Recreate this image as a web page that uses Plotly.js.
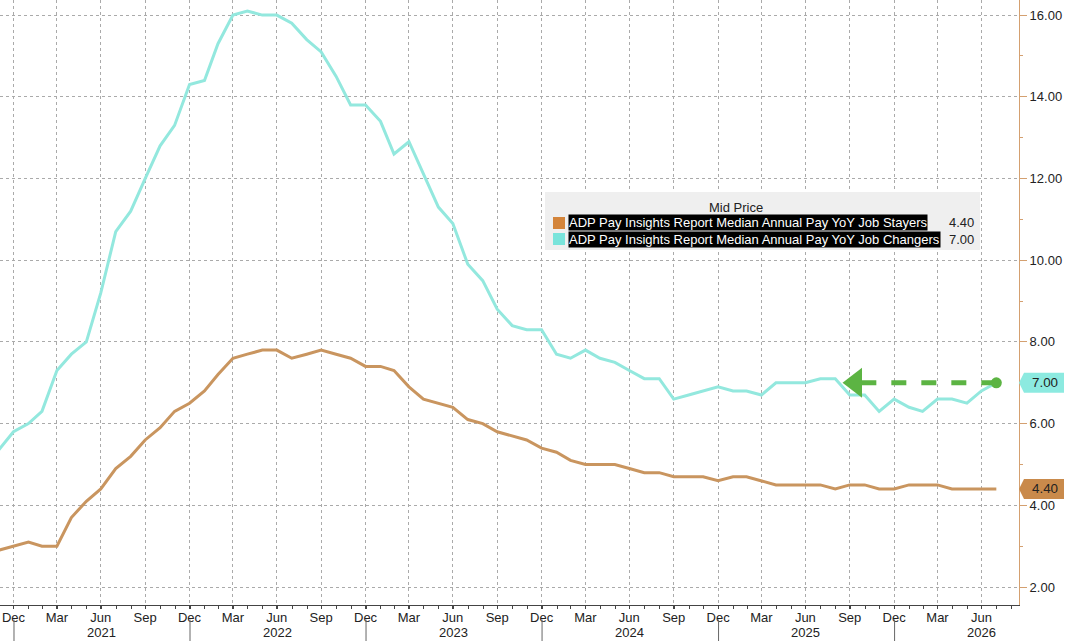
<!DOCTYPE html>
<html>
<head>
<meta charset="utf-8">
<script src="https://cdn.plot.ly/plotly-3.0.1.min.js"></script>
<style>
  html, body { margin: 0; padding: 0; background: #fff; }
  #chart { width: 1065px; height: 641px; }
</style>
</head>
<body>
<div id="chart"></div>
<script>
// monthly series, first point Nov 2020, last point Jul 2026
const startYear = 2020;
const startMonth = 11;

const jobChangers = [
    5.35, 5.8,
    6.0, 6.3, 7.3, 7.7, 8.0, 9.2, 10.7, 11.2, 12.0, 12.8, 13.3, 14.3,
    14.4, 15.3, 16.0, 16.1, 16.0, 16.0, 15.8, 15.4, 15.1, 14.5, 13.8, 13.8,
    13.4, 12.6, 12.9, 12.1, 11.3, 10.9, 9.9, 9.5, 8.8, 8.4, 8.3, 8.3,
    7.7, 7.6, 7.8, 7.6, 7.5, 7.3, 7.1, 7.1, 6.6, 6.7, 6.8, 6.9,
    6.8, 6.8, 6.7, 7.0, 7.0, 7.0, 7.1, 7.1, 6.7, 6.7, 6.3, 6.6,
    6.4, 6.3, 6.6, 6.6, 6.5, 6.8, 7.0
];

const jobStayers = [
    2.9, 3.0,
    3.1, 3.0, 3.0, 3.7, 4.1, 4.4, 4.9, 5.2, 5.6, 5.9, 6.3, 6.5,
    6.8, 7.2, 7.6, 7.7, 7.8, 7.8, 7.6, 7.7, 7.8, 7.7, 7.6, 7.4,
    7.4, 7.3, 6.9, 6.6, 6.5, 6.4, 6.1, 6.0, 5.8, 5.7, 5.6, 5.4,
    5.3, 5.1, 5.0, 5.0, 5.0, 4.9, 4.8, 4.8, 4.7, 4.7, 4.7, 4.6,
    4.7, 4.7, 4.6, 4.5, 4.5, 4.5, 4.5, 4.4, 4.5, 4.5, 4.4, 4.4,
    4.5, 4.5, 4.5, 4.4, 4.4, 4.4, 4.4
];

const seriesNames = [
    "ADP Pay Insights Report Median Annual Pay YoY Job Stayers",
    "ADP Pay Insights Report Median Annual Pay YoY Job Changers"
];
const lineColors = ["#c9955f", "#93e8de"];
const swatchColors = ["#d3843a", "#79e4db"];
const tagColors = ["#c98a4b", "#8ceae0"];
const arrowColor = "#5cb443";

const monthNames = ["Jan","Feb","Mar","Apr","May","Jun","Jul","Aug","Sep","Oct","Nov","Dec"];
const years = [2021, 2022, 2023, 2024, 2025, 2026];
const yTicks = [2, 4, 6, 8, 10, 12, 14, 16];

// where the green arrow points back to
const arrowTipDate = "2025-10-12";

function monthEnd(y, m) {
    // m is 1..12
    let d = new Date(Date.UTC(y, m, 0));
    return d.toISOString().slice(0, 10);
}

let dates = [];
for (let i = 0; i < jobChangers.length; i++) {
    let m = startMonth - 1 + i;
    dates.push(monthEnd(startYear + Math.floor(m / 12), (m % 12) + 1));
}

// quarter ticks: Dec, Mar, Jun, Sep
let tickvals = [];
let ticktext = [];
for (let i = 0; i < dates.length; i++) {
    let mo = Number(dates[i].slice(5, 7));
    if (mo % 3 == 0) {
        tickvals.push(dates[i]);
        ticktext.push(monthNames[mo - 1]);
    }
}

const font = "Liberation Sans, Arial, sans-serif";
const plotW = 1019, plotH = 605;
const px = (x) => x / plotW;
const py = (y) => 1 - y / plotH;

let lastIdx = dates.length - 1;
let lastValues = [jobStayers[lastIdx], jobChangers[lastIdx]];

let data = [
    {
        x: dates, y: jobStayers, type: "scatter", mode: "lines",
        line: {color: lineColors[0], width: 3}, hoverinfo: "skip"
    },
    {
        x: dates, y: jobChangers, type: "scatter", mode: "lines",
        line: {color: lineColors[1], width: 3}, hoverinfo: "skip"
    },
    {
        // dashed arrow shaft from last changers value
        x: [dates[lastIdx], arrowTipDate],
        y: [lastValues[1], lastValues[1]],
        type: "scatter", mode: "lines",
        line: {color: arrowColor, width: 5, dash: "dash"},
        hoverinfo: "skip"
    },
    {
        // dot at the start, head at the tip
        x: [dates[lastIdx], arrowTipDate],
        y: [lastValues[1], lastValues[1]],
        type: "scatter", mode: "markers",
        marker: {color: arrowColor, opacity: 1, symbol: ["circle", "triangle-left"], size: [11, 26], line: {width: 0}},
        hoverinfo: "skip"
    }
];

let shapes = [];
let annotations = [];

// year separators and year labels under the axis
years.forEach(yr => {
    shapes.push({
        type: "line", xref: "x", yref: "paper",
        x0: yr + "-01-01", x1: yr + "-01-01", y0: -0.024, y1: -0.06,
        line: {color: "#666", width: 1}
    });
    annotations.push({
        xref: "x", yref: "paper", x: yr + "-07-01", y: py(632),
        yanchor: "middle", text: String(yr), showarrow: false,
        font: {family: font, size: 13, color: "#222"}
    });
});

// legend box
shapes.push({
    type: "rect", xref: "paper", yref: "paper",
    x0: px(545), x1: px(980), y0: py(250), y1: py(192),
    fillcolor: "#efefef", line: {width: 0}, layer: "above"
});
annotations.push({
    xref: "paper", yref: "paper", x: px(765), y: py(207),
    text: "Mid Price", showarrow: false,
    font: {family: font, size: 13, color: "#222"}
});
for (let i = 0; i < 2; i++) {
    let cy = 223 + i * 16;
    shapes.push({
        type: "rect", xref: "paper", yref: "paper",
        x0: px(553), x1: px(565), y0: py(cy + 6), y1: py(cy - 6),
        fillcolor: swatchColors[i], line: {width: 0}, layer: "above"
    });
    annotations.push({
        xref: "paper", yref: "paper", x: px(568), y: py(cy),
        xanchor: "left", yanchor: "middle",
        text: seriesNames[i], showarrow: false,
        bgcolor: "#000", borderpad: 0,
        font: {family: font, size: 13, color: "#fff"}
    });
    annotations.push({
        xref: "paper", yref: "paper", x: px(976), y: py(cy),
        xanchor: "right", yanchor: "middle",
        text: lastValues[i].toFixed(2), showarrow: false,
        font: {family: font, size: 13, color: "#222"}
    });
}

// last value tags on the right axis
const tagH = 10 / plotH * (16.37 - 1.56);
for (let i = 0; i < 2; i++) {
    let v = lastValues[i];
    let x0 = 1, x1 = px(1024), x2 = px(1064);
    shapes.push({
        type: "path", xref: "paper", yref: "y",
        path: "M " + x0 + "," + v + " L " + x1 + "," + (v + tagH) + " L " + x2 + "," + (v + tagH) +
              " L " + x2 + "," + (v - tagH) + " L " + x1 + "," + (v - tagH) + " Z",
        fillcolor: tagColors[i], line: {width: 0}
    });
    annotations.push({
        xref: "paper", yref: "y", x: px(1030), y: v,
        xanchor: "left", yanchor: "middle",
        text: v.toFixed(2), showarrow: false,
        font: {family: font, size: 13.4, color: "#222"}
    });
}

let layout = {
    width: 1065, height: 641,
    margin: {l: 0, r: 46, t: 0, b: 36},
    paper_bgcolor: "#fff", plot_bgcolor: "#fff",
    showlegend: false,
    font: {family: font, size: 13, color: "#222"},
    xaxis: {
        type: "date",
        range: ["2020-12-03", "2026-09-16"],
        tickvals: tickvals, ticktext: ticktext,
        ticks: "outside", ticklen: 3, tickcolor: "#444",
        ticklabelstandoff: -3,
        showline: true, linecolor: "#444", linewidth: 1,
        showgrid: true, gridcolor: "#aaaaaa", griddash: "dot", gridwidth: 1,
        zeroline: false,
        tickfont: {family: font, size: 13, color: "#222"},
        minor: {ticks: "outside", ticklen: 3, tickcolor: "#444", dtick: "M1", tick0: "2021-01-01", showgrid: false}
    },
    yaxis: {
        side: "right",
        range: [1.56, 16.37],
        tickvals: yTicks,
        tickformat: ".2f",
        ticks: "outside", ticklen: 7, tickcolor: "#d4a070",
        showline: true, linecolor: "#d4a070", linewidth: 1,
        showgrid: true, gridcolor: "#aaaaaa", griddash: "dot", gridwidth: 1,
        zeroline: false,
        tickfont: {family: font, size: 13, color: "#222"},
        minor: {ticks: "outside", ticklen: 3, tickcolor: "#d4a070", dtick: 1, tick0: 1, showgrid: false}
    },
    shapes: shapes,
    annotations: annotations
};

Plotly.newPlot("chart", data, layout, {staticPlot: true});
</script>
</body>
</html>
